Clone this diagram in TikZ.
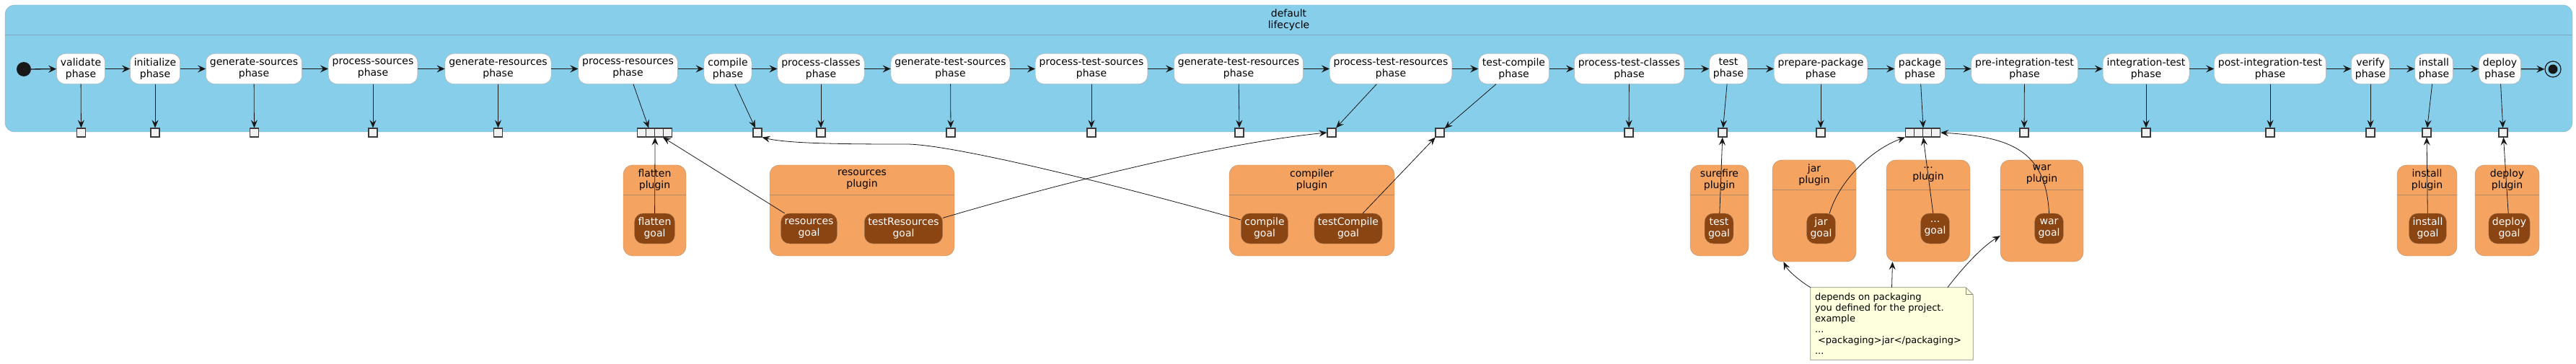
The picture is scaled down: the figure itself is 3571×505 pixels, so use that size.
\documentclass[tikz,border=0pt]{standalone}
\usepackage{fontspec}
\setmainfont{DejaVu Sans}
\usetikzlibrary{arrows.meta}

\definecolor{lcfill}{HTML}{87CEEB}
\definecolor{lcline}{HTML}{7FA9C0}
\definecolor{ink}{HTML}{181818}
\definecolor{phaseline}{HTML}{A8A8A8}
\definecolor{pinfill}{HTML}{F1F1F1}
\definecolor{plugfill}{HTML}{F4A460}
\definecolor{plugline}{HTML}{B48A66}
\definecolor{goalfill}{HTML}{8B4513}
\definecolor{goalline}{HTML}{A0785A}
\definecolor{notefill}{HTML}{FEFFDD}
\definecolor{noteline}{HTML}{8A8A80}

\newcommand{\umlfont}{\fontsize{14}{16}\selectfont}

\tikzset{
  lifecycle/.style={draw=lcline, fill=lcfill, rounded corners=13pt, minimum width=3559pt, minimum height=176pt, inner sep=0pt},
  lcsep/.style={draw=lcline, line width=0.8pt},
  phase/.style={draw=phaseline, fill=white, rounded corners=12pt, minimum height=42pt, inner xsep=5.5pt, align=center, font=\umlfont},
  pin/.style={draw=ink!85, fill=pinfill, line width=1.1pt, minimum width=12pt, minimum height=12pt, inner sep=0pt},
  startdot/.style={circle, fill=ink, minimum size=20pt, inner sep=0pt},
  stopdot/.style={circle, draw=ink, line width=1.2pt, minimum size=22pt, inner sep=0pt,
    path picture={\fill[ink] (path picture bounding box.center) circle (6.5pt);}},
  plugin/.style={draw=plugline, fill=plugfill, rounded corners=13pt, inner sep=0pt},
  plugtitle/.style={align=center, font=\umlfont},
  plugsep/.style={draw=plugline, line width=0.8pt},
  goal/.style={draw=goalline, fill=goalfill, text=white, rounded corners=12pt, minimum height=42pt, inner xsep=5pt, align=center, font=\umlfont},
  note/.style={fill=notefill, minimum width=225pt, minimum height=100pt, inner xsep=6pt, text width=213pt, align=left, font=\fontsize{13}{15}\selectfont},
  flow/.style={draw=ink, line width=1.3pt, -{Stealth[length=11pt,width=10pt,inset=4pt]}},
  bind/.style={draw=ink, line width=0.8pt, -{Stealth[length=11pt,width=9pt,inset=4pt]}}
}

\begin{document}
\begin{tikzpicture}[x=1pt,y=-1pt]
\useasboundingbox (0,0) rectangle (3571,505);

% default lifecycle
\node[lifecycle] (lc) at (1786.5,95) {};
\draw[lcsep] ([yshift=-42pt]lc.north west) -- ([yshift=-42pt]lc.north east);
\node[plugtitle] (lctitle) at (1786.5,28) {default\\lifecycle};

% phases
\node[startdot] (start) at (33,96) {};
\node[phase] (p1) at (112,95.5) {validate\\phase};
\node[phase] (p2) at (215,95.5) {initialize\\phase};
\node[phase] (p3) at (352,95.5) {generate-sources\\phase};
\node[phase] (p4) at (517,95.5) {process-sources\\phase};
\node[phase] (p5) at (690.5,95.5) {generate-resources\\phase};
\node[phase] (p6) at (870.5,95.5) {process-resources\\phase};
\node[phase] (p7) at (1009,95.5) {compile\\phase};
\node[phase] (p8) at (1138,95.5) {process-classes\\phase};
\node[phase] (p9) at (1317.5,95.5) {generate-test-sources\\phase};
\node[phase] (p10) at (1513,95.5) {process-test-sources\\phase};
\node[phase] (p11) at (1717,95.5) {generate-test-resources\\phase};
\node[phase] (p12) at (1928,95.5) {process-test-resources\\phase};
\node[phase] (p13) at (2098.5,95.5) {test-compile\\phase};
\node[phase] (p14) at (2258.5,95.5) {process-test-classes\\phase};
\node[phase] (p15) at (2396,95.5) {test\\phase};
\node[phase] (p16) at (2524,95.5) {prepare-package\\phase};
\node[phase] (p17) at (2661.5,95.5) {package\\phase};
\node[phase] (p18) at (2806.5,95.5) {pre-integration-test\\phase};
\node[phase] (p19) at (2975,95.5) {integration-test\\phase};
\node[phase] (p20) at (3147,95.5) {post-integration-test\\phase};
\node[phase] (p21) at (3286,95.5) {verify\\phase};
\node[phase] (p22) at (3374,95.5) {install\\phase};
\node[phase] (p23) at (3465.5,95.5) {deploy\\phase};
\node[stopdot] (stop) at (3539,96) {};

\draw[flow] (start) -- (p1);
\draw[flow] (p1) -- (p2);
\draw[flow] (p2) -- (p3);
\draw[flow] (p3) -- (p4);
\draw[flow] (p4) -- (p5);
\draw[flow] (p5) -- (p6);
\draw[flow] (p6) -- (p7);
\draw[flow] (p7) -- (p8);
\draw[flow] (p8) -- (p9);
\draw[flow] (p9) -- (p10);
\draw[flow] (p10) -- (p11);
\draw[flow] (p11) -- (p12);
\draw[flow] (p12) -- (p13);
\draw[flow] (p13) -- (p14);
\draw[flow] (p14) -- (p15);
\draw[flow] (p15) -- (p16);
\draw[flow] (p16) -- (p17);
\draw[flow] (p17) -- (p18);
\draw[flow] (p18) -- (p19);
\draw[flow] (p19) -- (p20);
\draw[flow] (p20) -- (p21);
\draw[flow] (p21) -- (p22);
\draw[flow] (p22) -- (p23);
\draw[flow] (p23) -- (stop);

% pins on the lifecycle border
\node[pin] (s1) at (112.5,184) {};
\node[pin] (s2) at (215,184) {};
\node[pin] (s3) at (352.5,184) {};
\node[pin] (s4) at (517,184) {};
\node[pin] (s5) at (690.5,184) {};
\node[pin] (s6a) at (889.5,184) {};
\node[pin] (s6b) at (901.5,184) {};
\node[pin] (s6c) at (913.5,184) {};
\node[pin] (s6d) at (925.5,184) {};
\node[pin] (s7) at (1050,184) {};
\node[pin] (s8) at (1138,184) {};
\node[pin] (s9) at (1318,184) {};
\node[pin] (s10) at (1513,184) {};
\node[pin] (s11) at (1718,184) {};
\node[pin] (s12) at (1846,184) {};
\node[pin] (s13) at (1996,184) {};
\node[pin] (s14) at (2258,184) {};
\node[pin] (s15) at (2388,184) {};
\node[pin] (s16) at (2524,184) {};
\node[pin] (s17a) at (2647.5,184) {};
\node[pin] (s17b) at (2659.5,184) {};
\node[pin] (s17c) at (2671.5,184) {};
\node[pin] (s17d) at (2683.5,184) {};
\node[pin] (s18) at (2806,184) {};
\node[pin] (s19) at (2975,184) {};
\node[pin] (s20) at (3147,184) {};
\node[pin] (s21) at (3286,184) {};
\node[pin] (s22) at (3364,184) {};
\node[pin] (s23) at (3470,184) {};

\draw[bind] (p1) -- (s1);
\draw[bind] (p2) -- (s2);
\draw[bind] (p3) -- (s3);
\draw[bind] (p4) -- (s4);
\draw[bind] (p5) -- (s5);
\draw[bind] (p6) -- (s6b);
\draw[bind] (p7) -- (s7);
\draw[bind] (p8) -- (s8);
\draw[bind] (p9) -- (s9);
\draw[bind] (p10) -- (s10);
\draw[bind] (p11) -- (s11);
\draw[bind] (p12) -- (s12);
\draw[bind] (p13) -- (s13);
\draw[bind] (p14) -- (s14);
\draw[bind] (p15) -- (s15);
\draw[bind] (p16) -- (s16);
\draw[bind] (p17) -- (s17b.north east);
\draw[bind] (p18) -- (s18);
\draw[bind] (p19) -- (s19);
\draw[bind] (p20) -- (s20);
\draw[bind] (p21) -- (s21);
\draw[bind] (p22) -- (s22);
\draw[bind] (p23) -- (s23);

% plugins
\node[plugin, minimum width=87pt, minimum height=126pt] (pflat) at (907.5,292) {};
\node[plugin, minimum width=256pt, minimum height=126pt] (pres) at (1195,292) {};
\node[plugin, minimum width=229pt, minimum height=126pt] (pcomp) at (1818.5,292) {};
\node[plugin, minimum width=81pt, minimum height=126pt] (psure) at (2383.5,292) {};
\node[plugin, minimum width=116pt, minimum height=141pt] (pjar) at (2515,292.5) {};
\node[plugin, minimum width=116pt, minimum height=141pt] (pdots) at (2673,292.5) {};
\node[plugin, minimum width=115pt, minimum height=141pt] (pwar) at (2830.5,292.5) {};
\node[plugin, minimum width=83pt, minimum height=126pt] (pinst) at (3364.5,292) {};
\node[plugin, minimum width=89pt, minimum height=126pt] (pdep) at (3475.5,292) {};

\node[plugtitle] (tflat) at ([yshift=-20.5pt]pflat.north) {flatten\\plugin};
\node[plugtitle] (tres) at ([yshift=-20.5pt]pres.north) {resources\\plugin};
\node[plugtitle] (tcomp) at ([yshift=-20.5pt]pcomp.north) {compiler\\plugin};
\node[plugtitle] (tsure) at ([yshift=-20.5pt]psure.north) {surefire\\plugin};
\node[plugtitle] (tjar) at ([yshift=-20.5pt]pjar.north) {jar\\plugin};
\node[plugtitle] (tdots) at ([yshift=-20.5pt]pdots.north) {...\\plugin};
\node[plugtitle] (twar) at ([yshift=-20.5pt]pwar.north) {war\\plugin};
\node[plugtitle] (tinst) at ([yshift=-20.5pt]pinst.north) {install\\plugin};
\node[plugtitle] (tdep) at ([yshift=-20.5pt]pdep.north) {deploy\\plugin};

\draw[plugsep] ([yshift=-42pt]pflat.north west) -- ([yshift=-42pt]pflat.north east);
\draw[plugsep] ([yshift=-42pt]pres.north west) -- ([yshift=-42pt]pres.north east);
\draw[plugsep] ([yshift=-42pt]pcomp.north west) -- ([yshift=-42pt]pcomp.north east);
\draw[plugsep] ([yshift=-42pt]psure.north west) -- ([yshift=-42pt]psure.north east);
\draw[plugsep] ([yshift=-42pt]pjar.north west) -- ([yshift=-42pt]pjar.north east);
\draw[plugsep] ([yshift=-42pt]pdots.north west) -- ([yshift=-42pt]pdots.north east);
\draw[plugsep] ([yshift=-42pt]pwar.north west) -- ([yshift=-42pt]pwar.north east);
\draw[plugsep] ([yshift=-42pt]pinst.north west) -- ([yshift=-42pt]pinst.north east);
\draw[plugsep] ([yshift=-42pt]pdep.north west) -- ([yshift=-42pt]pdep.north east);

% goals
\node[goal] (gflat) at (907.5,317) {flatten\\goal};
\node[goal] (gres) at (1121.5,317) {resources\\goal};
\node[goal] (gtres) at (1252.5,317) {testResources\\goal};
\node[goal] (gcomp) at (1753,317) {compile\\goal};
\node[goal] (gtcomp) at (1869,317) {testCompile\\goal};
\node[goal] (gtest) at (2383,317) {test\\goal};
\node[goal] (gjar) at (2524.5,317) {jar\\goal};
\node[goal] (gdots) at (2682.5,317) {...\\goal};
\node[goal] (gwar) at (2840.5,317) {war\\goal};
\node[goal] (ginst) at (3365.5,317) {install\\goal};
\node[goal] (gdep) at (3478.5,317) {deploy\\goal};

\draw[bind] (gflat) -- (s6b.south east);
\draw[bind] (gres) -- (s6d.south west);
\draw[bind] (gcomp.160) .. controls (1560,260) and (1330,202) .. (1259,200) .. controls (1190,200) and (1095,200) .. (s7.south east);
\draw[bind] (gtres.15) .. controls (1450,260) and (1680,200) .. (s12.west);
\draw[bind] (gtcomp) -- (s13);
\draw[bind] (gtest) -- (s15);
\draw[bind] (gjar.61) .. controls (2550,250) and (2595,207) .. (s17a.south west);
\draw[bind] (gdots) -- (s17b.south east);
\draw[bind] (gwar.north) .. controls (2836,210) and (2790,190) .. (s17d.east);
\draw[bind] (ginst) -- (s22);
\draw[bind] (gdep) -- (s23);

% note about packaging
\node[note] (note) at (2622.5,449) {depends on packaging\\
you defined for the project.\\
example\\
...\\
\hspace*{4pt}<packaging>jar</packaging>\\
...};
\fill[white] ([xshift=-10pt]note.north east) -- ([xshift=0.6pt,yshift=0.6pt]note.north east) -- ([yshift=-10pt]note.north east) -- cycle;
\draw[noteline, line width=0.8pt] (note.north west) -- ([xshift=-10pt]note.north east) -- ([yshift=-10pt]note.north east) -- (note.south east) -- (note.south west) -- cycle;
\draw[noteline, line width=0.8pt] ([xshift=-10pt]note.north east) -- ([xshift=-10pt,yshift=-10pt]note.north east) -- ([yshift=-10pt]note.north east);

\draw[bind] (note.north west) .. controls (2495,390) and (2478,375) .. (pjar.239);
\draw[bind] (note.north) -- (pdots.235);
\draw[bind] (note.33) .. controls (2722,370) and (2748,342) .. (pwar.211);
\end{tikzpicture}
\end{document}
